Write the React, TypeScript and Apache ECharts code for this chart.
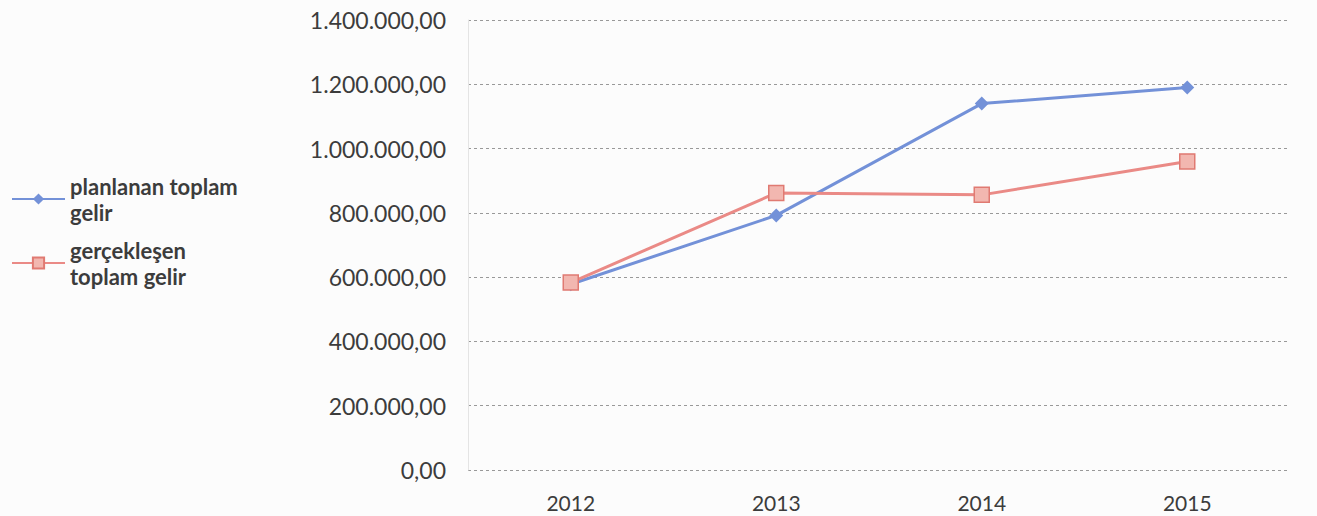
import React, { useEffect, useRef } from "react";
import * as echarts from "echarts";

const categories = ["2012", "2013", "2014", "2015"];
const planned = [578000, 792000, 1140000, 1190000];
const actual = [583000, 862000, 856000, 960000];
const seriesNames = ["planlanan toplam gelir", "gerçekleşen toplam gelir"];
const legendLines: Record<string, string[]> = {
  "planlanan toplam gelir": ["planlanan toplam", "gelir"],
  "gerçekleşen toplam gelir": ["gerçekleşen", "toplam gelir"],
};

const fmt = (v: number) => {
  const s = Math.round(v).toString().replace(/\B(?=(\d{3})+(?!\d))/g, ".");
  return s + ",00";
};

export default function App() {
  const ref = useRef<HTMLDivElement>(null);
  useEffect(() => {
    const chart = echarts.init(ref.current!, null, { renderer: "svg" });
    chart.setOption({
      animation: false,
      backgroundColor: "#fcfcfc",
      textStyle: { fontFamily: "Lato" },
      grid: { left: 468, right: 27, top: 20, bottom: 46 },
      legend: {
        orient: "vertical",
        left: 6,
        top: 170,
        itemWidth: 53,
        itemHeight: 14,
        itemGap: 16,
        formatter: (name: string) => legendLines[name].map((l) => `{a|${l}}`).join("\n"),
        textStyle: {
          fontSize: 22,
          color: "#3c3c3c",
          fontWeight: "bold",
          rich: { a: { fontSize: 22, fontWeight: "bold", color: "#3c3c3c", lineHeight: 26, fontFamily: "Lato" } },
        },
        data: seriesNames,
      },
      xAxis: {
        type: "category",
        data: categories,
        axisLine: { show: false },
        axisTick: { show: false },
        axisLabel: { fontSize: 21, color: "#3c3c3c", margin: 22 },
      },
      yAxis: {
        type: "value",
        min: 0,
        max: 1400000,
        interval: 200000,
        axisLine: { show: true, lineStyle: { color: "#e4e4e4" } },
        axisLabel: { fontSize: 23, color: "#3c3c3c", margin: 22, formatter: fmt },
        splitLine: { lineStyle: { color: "#999", type: [3, 3] } },
      },
      series: [
        {
          name: seriesNames[0],
          type: "line",
          data: planned,
          symbol: "diamond",
          symbolSize: 14,
          lineStyle: { color: "#7391d8", width: 3 },
          itemStyle: { color: "#7391d8" },
        },
        {
          name: seriesNames[1],
          type: "line",
          data: actual,
          symbol: "rect",
          symbolSize: 15,
          lineStyle: { color: "#ea8a86", width: 3 },
          itemStyle: { color: "#f2b7b0", borderColor: "#e07a72", borderWidth: 1.5 },
        },
      ],
    });
    return () => chart.dispose();
  }, []);
  return <div ref={ref} style={{ width: 1317, height: 516, position: "absolute", left: 0, top: 0 }} />;
}
